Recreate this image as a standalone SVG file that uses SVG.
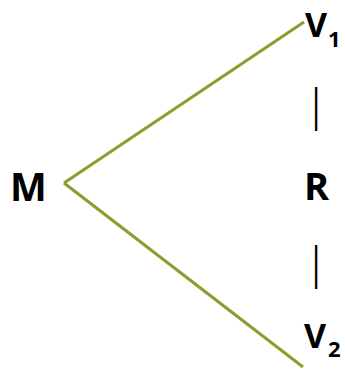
<svg xmlns="http://www.w3.org/2000/svg" width="345" height="369" viewBox="0 0 345 369">
<style>
.lbl{font-family:"Open Sans","Liberation Sans",sans-serif;font-weight:bold;fill:#000}
.sub{font-family:"Open Sans","Liberation Sans",sans-serif;font-weight:bold;fill:#000;font-size:22px}
.bar{font-family:"Liberation Sans",sans-serif;fill:#000;font-size:46px}
.edge{stroke:#8c9c2e;stroke-width:3;fill:none;stroke-linecap:butt}
</style>
<rect width="345" height="369" fill="#fff"/>
<g id="connectors">
<line class="edge" x1="64" y1="183" x2="304" y2="22"/>
<line class="edge" x1="64" y1="183" x2="303" y2="367"/>
</g>
<g id="M"><text class="lbl" x="10" y="201" font-size="39">M</text></g>
<g id="V1"><text class="lbl" x="305" y="37" font-size="34">V</text><text class="sub" x="328" y="47">1</text></g>
<g id="V2"><text class="lbl" x="304" y="348" font-size="34">V</text><text class="sub" x="328" y="357">2</text></g>
<g id="R"><text class="lbl" x="304" y="200" font-size="38">R</text></g>
<g id="bars">
<text class="bar" transform="translate(316 121) scale(0.6 1)" x="-6" y="0">|</text>
<text class="bar" transform="translate(316 279) scale(0.6 1)" x="-6" y="0">|</text>
</g>
</svg>
